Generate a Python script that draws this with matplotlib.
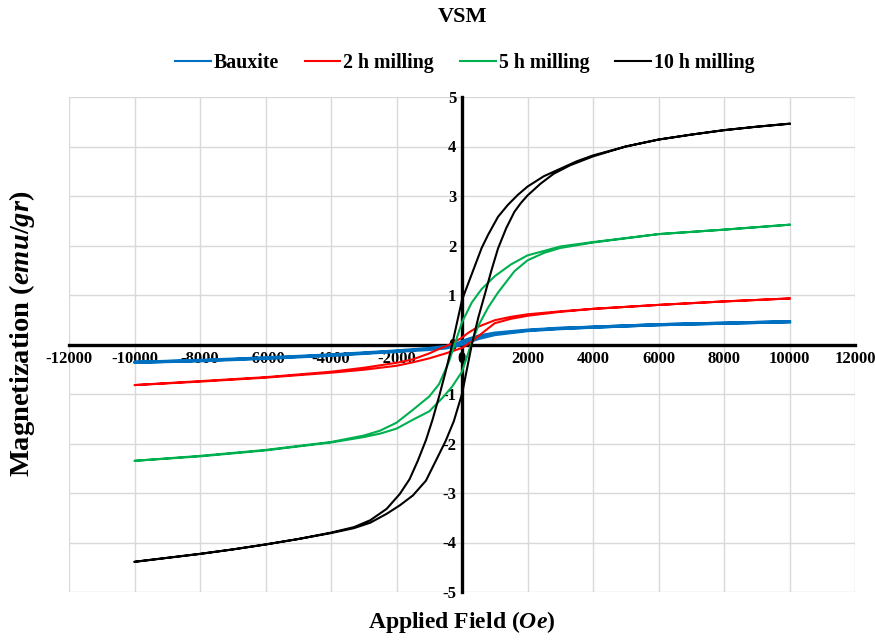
import matplotlib
matplotlib.use("Agg")
import matplotlib.pyplot as plt
from matplotlib.lines import Line2D

plt.rcParams["font.family"] = ["Liberation Serif", "DejaVu Serif"]
plt.rcParams["font.weight"] = "bold"
plt.rcParams["axes.unicode_minus"] = False
plt.rcParams["mathtext.fontset"] = "custom"
plt.rcParams["mathtext.rm"] = "Liberation Serif:bold"
plt.rcParams["mathtext.bf"] = "Liberation Serif:bold"
plt.rcParams["mathtext.it"] = "Liberation Serif:italic:bold"

# hysteresis loops: descending branch (+10000 -> -10000)
# followed by ascending branch (-10000 -> +10000)
BAUX_H = [10000, 8000, 6000, 4000, 3000, 2000, 1000, 500, 200, 0, -200, -500,
          -1000, -2000, -3000, -4000, -6000, -8000, -10000,
          -8000, -6000, -4000, -3000, -2000, -1000, -500, 0, 200, 500, 1000,
          2000, 3000, 4000, 6000, 8000, 10000]
BAUX_M = [0.46, 0.43, 0.40, 0.35, 0.33, 0.29, 0.23, 0.17, 0.11, 0.06, 0.0, -0.04,
          -0.08, -0.13, -0.17, -0.21, -0.27, -0.32, -0.36,
          -0.33, -0.28, -0.22, -0.18, -0.14, -0.10, -0.07, 0.0, 0.05, 0.12, 0.20,
          0.28, 0.32, 0.35, 0.40, 0.43, 0.46]

MILL2_H = [10000, 8000, 6000, 4000, 3000, 2000, 1500, 1000, 500, 200, 0, -300,
           -700, -1000, -1500, -2000, -3000, -4000, -6000, -8000, -10000,
           -8000, -6000, -4000, -3000, -2000, -1500, -1000, -500, 0, 250, 500,
           1000, 1500, 2000, 3000, 4000, 6000, 8000, 10000]
MILL2_M = [0.93, 0.87, 0.80, 0.72, 0.67, 0.61, 0.56, 0.49, 0.36, 0.24, 0.14, 0.02,
           -0.09, -0.18, -0.30, -0.37, -0.47, -0.55, -0.66, -0.74, -0.82,
           -0.75, -0.67, -0.57, -0.51, -0.43, -0.36, -0.28, -0.18, -0.07, 0.04, 0.17,
           0.43, 0.52, 0.58, 0.66, 0.72, 0.80, 0.87, 0.93]

MILL5_H = [10000, 8000, 6000, 4000, 3000, 2000, 1500, 1000, 600, 300, 0, -200,
           -400, -700, -1000, -1500, -2000, -2500, -3000, -4000, -6000, -8000,
           -10000,
           -8000, -6000, -4000, -3000, -2500, -2000, -1500, -1000, -600, -300, 0,
           150, 275, 500, 800, 1100, 1600, 2000, 2500, 3000, 4000, 6000, 8000,
           10000]
MILL5_M = [2.42, 2.32, 2.23, 2.07, 1.98, 1.80, 1.62, 1.38, 1.12, 0.85, 0.45, 0.05,
           -0.35, -0.80, -1.05, -1.32, -1.58, -1.74, -1.84, -1.97, -2.13, -2.25,
           -2.35,
           -2.26, -2.14, -1.98, -1.87, -1.80, -1.70, -1.52, -1.35, -1.08, -0.85,
           -0.55, -0.25, 0.0, 0.38, 0.75, 1.05, 1.48, 1.70, 1.85, 1.95, 2.06, 2.23,
           2.32, 2.42]

MILL10_H = [10000, 9000, 8000, 7000, 6000, 5000, 4000, 3500, 3000, 2500, 2000,
            1700, 1400, 1100, 800, 600, 400, 200, 0, -150, -300, -500, -700,
            -900, -1100, -1350, -1600, -1900, -2300, -2800, -3300, -4000, -5000,
            -6000, -7000, -8000, -9000, -10000,
            -9000, -8000, -7000, -6000, -5000, -4000, -3300, -2800, -2300, -1900,
            -1500, -1100, -800, -500, -250, 0, 150, 300, 500, 700, 900, 1100,
            1350, 1600, 1800, 2000, 2400, 2800, 3300, 4000, 5000, 6000, 7000,
            8000, 9000, 10000]
MILL10_M = [4.46, 4.40, 4.33, 4.24, 4.14, 4.00, 3.82, 3.70, 3.55, 3.40, 3.19,
            3.02, 2.82, 2.58, 2.22, 1.95, 1.60, 1.25, 0.90, 0.45, 0.0, -0.55, -1.05,
            -1.52, -1.93, -2.35, -2.72, -3.02, -3.32, -3.55, -3.69, -3.80, -3.93,
            -4.04, -4.14, -4.23, -4.31, -4.39,
            -4.31, -4.23, -4.14, -4.04, -3.93, -3.81, -3.71, -3.60, -3.42, -3.25,
            -3.05, -2.75, -2.35, -1.95, -1.55, -1.0, -0.5, 0.0, 0.55, 1.02, 1.50, 1.94,
            2.35, 2.68, 2.86, 3.01, 3.25, 3.45, 3.62, 3.80, 4.00, 4.14, 4.24,
            4.33, 4.40, 4.46]

LABELS = ["Bauxite", "2 h milling", "5 h milling", "10 h milling"]
COLORS = ["#0070C0", "#FF0000", "#00B050", "#000000"]
WIDTHS = [2.3, 1.5, 1.5, 1.5]

X_TICKS = list(range(-12000, 12001, 2000))
Y_TICKS = list(range(-5, 6))

fig = plt.figure(figsize=(8.75, 6.4), dpi=100)
ax = fig.add_axes([69 / 875, 1 - 592 / 640, (855 - 69) / 875, (592 - 97) / 640])

series = [(BAUX_H, BAUX_M), (MILL2_H, MILL2_M), (MILL5_H, MILL5_M),
          (MILL10_H, MILL10_M)]
for (h, m), c, w in zip(series, COLORS, WIDTHS):
    ax.plot(h, m, color=c, lw=w, zorder=3, solid_joinstyle="round")

ax.set_xlim(-12000, 12000)
ax.set_ylim(-5, 5)
ax.set_xticks(X_TICKS)
ax.set_xticklabels([str(v) for v in X_TICKS])
ax.set_yticks(Y_TICKS)
ax.set_yticklabels([str(v) for v in Y_TICKS])
ax.grid(True, color="#d9d9d9", lw=1.0, zorder=0)
ax.set_axisbelow(True)

for side in ("top", "right"):
    ax.spines[side].set_visible(False)
for side in ("left", "bottom"):
    ax.spines[side].set_position("zero")
    ax.spines[side].set_linewidth(2.4)
    ax.spines[side].set_color("black")
ax.tick_params(length=0, labelsize=12)
ax.tick_params(axis="x", pad=5)
ax.tick_params(axis="y", pad=4)
for lab in ax.get_xticklabels() + ax.get_yticklabels():
    lab.set_fontweight("bold")

fig.text(462 / 875, 1 - 17 / 640, "VSM", ha="center", va="center",
         fontsize=16, fontweight="bold")

handles = [Line2D([], [], color=c, lw=1.5) for c in COLORS]
fig.legend(handles, LABELS, loc="center", bbox_to_anchor=(0.531, 1 - 63 / 640),
           ncol=4, frameon=False, handlelength=1.8, handletextpad=0.15,
           columnspacing=1.3, prop={"family": "Liberation Serif",
                                    "weight": "bold", "size": 14.3})

fig.text(462 / 875, 1 - 622 / 640, r"Applied Field $\mathit{(Oe)}$",
         ha="center", va="center", fontsize=17, fontweight="bold")
fig.text(22 / 875, 1 - 334 / 640, r"Magnetization $\mathit{(emu/gr)}$",
         ha="center", va="center", rotation=90, fontsize=20.5, fontweight="bold")

fig.savefig("out.png", dpi=100)
